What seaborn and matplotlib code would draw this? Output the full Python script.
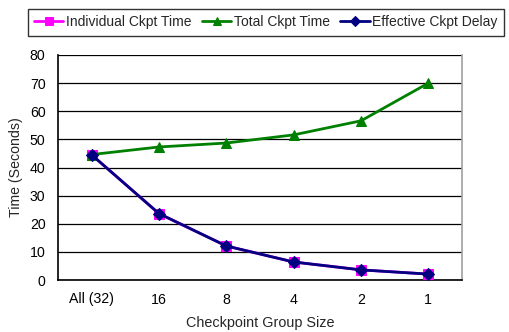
import numpy as np
import pandas as pd
import matplotlib
matplotlib.use("Agg")
import matplotlib.pyplot as plt
import seaborn as sns

group_sizes = ["All (32)", "16", "8", "4", "2", "1"]
individual_ckpt = [44.5, 23.6, 12.1, 6.4, 3.6, 2.1]
total_ckpt = [44.6, 47.3, 48.7, 51.6, 56.6, 70.0]
effective_delay = [44.5, 23.6, 12.1, 6.4, 3.6, 2.1]

series_names = ["Individual Ckpt Time", "Total Ckpt Time", "Effective Ckpt Delay"]
series_values = [individual_ckpt, total_ckpt, effective_delay]
colors = ["#FF00FF", "#008000", "#000080"]
markers = ["s", "^", "D"]
marker_sizes = [7.5, 7, 6]

sns.set_style("white")
plt.rcParams["font.family"] = ["Liberation Sans", "DejaVu Sans"]

frames = []
for name, vals in zip(series_names, series_values):
    frames.append(pd.DataFrame({"size": group_sizes, "time": vals, "series": name}))
df = pd.concat(frames, ignore_index=True)
df["pos"] = df["size"].map({g: i for i, g in enumerate(group_sizes)})

fig = plt.figure(figsize=(5.10, 3.32), dpi=100)
ax = fig.add_axes([58 / 510, 52 / 332, 404 / 510, 225 / 332])

for name, c, m, ms in zip(series_names, colors, markers, marker_sizes):
    sub = df[df["series"] == name]
    sns.lineplot(data=sub, x="pos", y="time", ax=ax, color=c, marker=m,
                 markersize=ms, markeredgecolor=c, linewidth=2,
                 label=name, legend=False, zorder=3)

ax.set_xlim(-0.5, len(group_sizes) - 0.5)
ax.set_ylim(0, 80)
ax.set_yticks(np.arange(0, 81, 10))
ax.set_xticks(range(len(group_sizes)))
ax.set_xticklabels(group_sizes)
ax.set_xticks(np.arange(0.5, len(group_sizes) - 0.5, 1), minor=True)
ax.tick_params(axis="x", which="major", length=0, pad=9, labelsize=10.2, colors="black")
ax.tick_params(axis="x", which="minor", direction="in", length=4, width=1, color="black")
ax.tick_params(axis="y", which="major", length=0, pad=9, labelsize=10.2, colors="black")

ax.grid(axis="y", color="black", linewidth=0.9)
ax.set_axisbelow(True)
for side in ["left", "bottom"]:
    ax.spines[side].set_color("black")
    ax.spines[side].set_linewidth(1.2)
ax.spines["top"].set_visible(False)
ax.spines["right"].set_color("#A0A0A0")
ax.spines["right"].set_linewidth(1.2)

ax.set_xlabel("Checkpoint Group Size", fontsize=10.4, labelpad=7)
ax.set_ylabel("Time (Seconds)", fontsize=10.2, labelpad=5)

h, l = ax.get_legend_handles_labels()
leg = fig.legend(h, l, loc="upper left", bbox_to_anchor=(28 / 510, 1 - 9 / 332),
                 ncol=3, frameon=True, fancybox=False, fontsize=10,
                 handlelength=2.1, handletextpad=0.2, columnspacing=0.75,
                 borderpad=0.45, edgecolor="black", borderaxespad=0,
                 markerscale=0.85)
leg.get_frame().set_linewidth(1.0)

fig.savefig("out.png", dpi=100, facecolor="white")
